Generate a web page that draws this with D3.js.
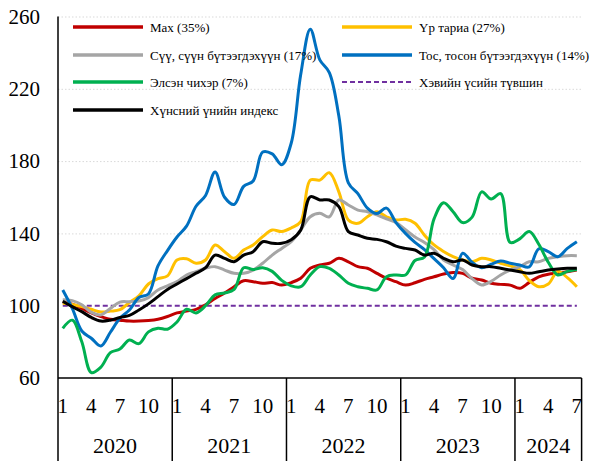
<!DOCTYPE html>
<html>
<head>
<meta charset="utf-8">
<script src="https://cdn.jsdelivr.net/npm/d3@7"></script>
<style>
  body { margin: 0; background: #fff; }
  text { font-family: "Liberation Serif", "Times New Roman", serif; }
</style>
</head>
<body>
<svg id="chart" width="596" height="461"></svg>
<script>
// monthly index, Jan 2020 .. Jul 2024 (55 months)
const years = [2020, 2021, 2022, 2023, 2024];
const monthsPerYear = [12, 12, 12, 12, 7];
const yTicks = [60, 100, 140, 180, 220, 260];
const baseline = 100;

const meat = [102, 100.8, 98.5, 96, 94, 92.5, 92, 91.5, 91.5, 91.8,
  92.5, 94, 96, 97, 98, 100.5, 104, 107, 110.5, 113.8,
  113.3, 112.4, 112.8, 111.4, 112.8, 115.2, 120.7, 122.5, 123.5, 126.2,
  124.3, 121.6, 120.7, 117.9, 115.2, 113.3, 111.4, 112.7, 114.6, 116,
  117.5, 118.3, 117.9, 115.2, 114.2, 112.4, 111.8, 111.4, 109.6, 112.9,
  116, 117.4, 118, 118.8, 119.7];
const grain = [101.3, 100.7, 99.5, 98, 96.5, 97, 97.8, 101.7, 105.5, 112,
  115, 116.5, 125.3, 126, 123.5, 125.3, 133.6, 129.9, 126.2, 130.8,
  133.6, 138.2, 141.9, 141, 143, 146.5, 169.5, 169.5, 173.6, 163,
  147.4, 145.6, 149.2, 152, 149.2, 147.4, 147.8, 145.6, 139, 133.6,
  130, 127.1, 125.3, 124.3, 126.2, 125.3, 123.5, 122, 120, 114,
  110.5, 112, 119, 115.5, 110.5];
const milk = [103.3, 102.8, 100.5, 96.3, 94.9, 98.5, 102, 102.2, 102.6, 104.5,
  108.7, 111, 113.3, 117, 118.8, 120.7, 121.6, 119.7, 117.9, 117.9,
  119.7, 123.5, 128, 131.7, 135.4, 141.9, 149.2, 151.1, 149.2, 158.5,
  155.7, 152.9, 152, 150.2, 148, 146, 142, 138, 135, 131,
  125.3, 122.5, 120, 115, 111.5, 113.5, 117, 119.7, 121.6, 124.3,
  124.3, 126.2, 127.1, 127.7, 127.7];
const oil = [108.7, 98.5, 86, 82, 77.7, 85.3, 93, 97.6, 104.5, 106.5,
  122, 130.5, 138, 144, 155, 161, 174, 160, 156, 166,
  169, 185, 184, 178, 190, 228, 253, 236, 229, 205,
  168, 162, 154, 151, 154, 146, 140, 135, 131, 126,
  121, 115, 129, 124, 121, 123, 124.7, 123.5, 122.5, 121.5,
  131.5, 129.9, 127.1, 131.7, 135.4];
const sugar = [87.5, 92, 80, 63, 66, 74, 76, 81, 79, 85.5,
  87.5, 87, 91, 98, 96, 100, 106, 107, 109, 121,
  120, 121, 119, 114, 111, 110.5, 117, 121.6, 120.7, 117,
  112.4, 110.5, 109.6, 108.7, 116, 117, 117, 125, 127, 148,
  157, 152, 146, 149, 163, 159, 162, 135, 137, 141,
  134, 124, 117, 119, 120];
const foodIndex = [102.5, 99.5, 96.7, 93.5, 91.5, 92, 93.5, 94.6, 97.6, 101,
  105, 109, 112, 115, 118, 121, 128, 126.2, 124.3, 128,
  129.9, 135.4, 134.5, 134.5, 136.5, 141.9, 160.3, 158.5, 158.5, 154.8,
  141, 139.1, 137.3, 136.7, 135.4, 133, 131.7, 130.8, 128, 129,
  126.2, 124.3, 125.3, 122.5, 121.6, 121.6, 120.7, 119.7, 118.8, 117.9,
  118.8, 119.7, 120.3, 120.7, 120.7];

const series = [
  { name: "Мах (35%)", values: meat, color: "#C00000" },
  { name: "Үр тариа (27%)", values: grain, color: "#FFC000" },
  { name: "Сүү, сүүн бүтээгдэхүүн (17%)", values: milk, color: "#A5A5A5" },
  { name: "Тос, тосон бүтээгдэхүүн (14%)", values: oil, color: "#0070C0" },
  { name: "Элсэн чихэр (7%)", values: sugar, color: "#00B050" },
  { name: "Хэвийн үсийн түвшин", values: null, color: "#7030A0", dashed: true },
  { name: "Хүнсний үнийн индекс", values: foodIndex, color: "#000000" }
];

const svg = d3.select("#chart");
const plotLeft = 58, plotRight = 581.6, plotTop = 16.5, plotBottom = 378, boxBottom = 461;

const monthIdx = d3.range(d3.sum(monthsPerYear));
const x = d3.scaleBand().domain(monthIdx).range([plotLeft, plotRight]).padding(0);
const cx = i => x(i) + x.bandwidth() / 2;
const y = d3.scaleLinear().domain([60, 260]).range([plotBottom, plotTop]);

// gridlines
svg.append("g")
  .attr("transform", `translate(${plotLeft},0)`)
  .call(d3.axisLeft(y).tickValues(yTicks.filter(d => d > 100)).tickSize(-(plotRight - plotLeft)).tickFormat(""))
  .call(g => g.select(".domain").remove())
  .call(g => g.selectAll("line").attr("stroke", "#d9d9d9").attr("stroke-dasharray", "1.5,2"));

// y axis labels
svg.append("g")
  .attr("transform", `translate(${plotLeft},0)`)
  .call(d3.axisLeft(y).tickValues(yTicks).tickSize(0).tickPadding(18))
  .call(g => g.select(".domain").remove())
  .call(g => g.selectAll("text").attr("font-size", 21).attr("fill", "#000")
    .attr("font-family", "Liberation Serif"));

// lines
const line = d3.line()
  .x((d, i) => cx(i))
  .y(d => y(d))
  .curve(d3.curveCatmullRom.alpha(0.5));

svg.append("line")
  .attr("x1", cx(0)).attr("x2", cx(monthIdx.length - 1))
  .attr("y1", y(baseline)).attr("y2", y(baseline))
  .attr("stroke", "#7030A0").attr("stroke-width", 2).attr("stroke-dasharray", "5,3");

const order = [0, 1, 2, 3, 4, 6];
svg.append("g").selectAll("path")
  .data(order.map(k => series[k]))
  .join("path")
  .attr("d", d => line(d.values))
  .attr("fill", "none")
  .attr("stroke", d => d.color)
  .attr("stroke-width", 3)
  .attr("stroke-linejoin", "round");

// axes frame
const frame = svg.append("g").attr("stroke", "#000").attr("stroke-width", 1.5);
frame.append("line").attr("x1", plotLeft).attr("x2", plotLeft).attr("y1", plotTop).attr("y2", boxBottom);
frame.append("line").attr("x1", plotLeft).attr("x2", plotRight).attr("y1", plotBottom).attr("y2", plotBottom);

// month labels
svg.append("g")
  .attr("transform", `translate(0,${plotBottom})`)
  .call(d3.axisBottom(x).tickSize(0).tickPadding(20)
    .tickValues(monthIdx.filter(i => (i % 12) % 3 === 0))
    .tickFormat(i => (i % 12) + 1))
  .call(g => g.select(".domain").remove())
  .call(g => g.selectAll("text").attr("font-size", 21).attr("fill", "#000")
    .attr("font-family", "Liberation Serif"));

// year groups
let start = 0;
const yearGroups = years.map((yr, k) => {
  const g = { year: yr, s: start, e: start + monthsPerYear[k] };
  start += monthsPerYear[k];
  return g;
});
const edge = i => i >= monthIdx.length ? plotRight : x(i);

svg.append("g").selectAll("line")
  .data(yearGroups)
  .join("line")
  .attr("x1", d => edge(d.e)).attr("x2", d => edge(d.e))
  .attr("y1", plotBottom).attr("y2", boxBottom)
  .attr("stroke", "#000").attr("stroke-width", 1.5);

svg.append("g").selectAll("text")
  .data(yearGroups)
  .join("text")
  .attr("x", d => (edge(d.s) + edge(d.e)) / 2)
  .attr("y", 453)
  .attr("text-anchor", "middle")
  .attr("font-size", 22)
  .text(d => d.year);

// legend
const legendPos = [
  [73, 27], [342, 27],
  [73, 55], [342, 55],
  [73, 82], [342, 82],
  [73, 110]
];
const legend = svg.append("g").selectAll("g")
  .data(series)
  .join("g")
  .attr("transform", (d, i) => `translate(${legendPos[i][0]},${legendPos[i][1]})`);

legend.append("line")
  .attr("x1", 0).attr("x2", 70)
  .attr("stroke", d => d.color)
  .attr("stroke-width", d => d.dashed ? 2 : 3.5)
  .attr("stroke-dasharray", d => d.dashed ? "5,3" : null);

legend.append("text")
  .attr("x", 77)
  .attr("dy", "0.35em")
  .attr("font-size", 13)
  .attr("fill", "#000")
  .text(d => d.name);
</script>
</body>
</html>
